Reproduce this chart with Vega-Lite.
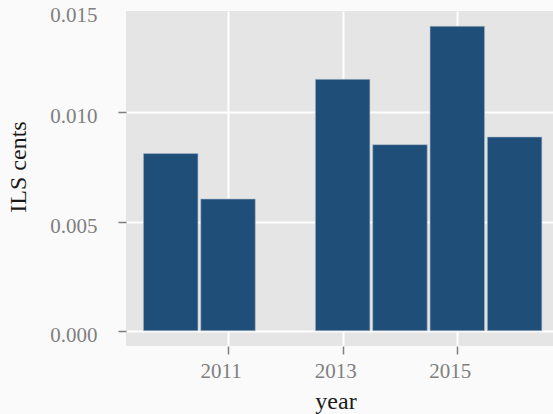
{
  "$schema": "https://vega.github.io/schema/vega-lite/v6.json",
  "width": 427,
  "height": 335,
  "autosize": "none",
  "padding": {"left": 126, "top": 11, "right": 0, "bottom": 68},
  "background": "#fafafa",
  "config": {
    "view": {"fill": "#e5e5e5", "stroke": null},
    "axis": {
      "labelFont": "Liberation Serif",
      "titleFont": "Liberation Serif",
      "labelFontSize": 21,
      "titleFontSize": 24,
      "titleFontWeight": "normal",
      "labelColor": "#7f7f7f",
      "titleColor": "#1a1a1a",
      "tickColor": "#7f7f7f",
      "tickWidth": 1.5,
      "tickSize": 8,
      "gridColor": "#ffffff",
      "gridWidth": 2,
      "domain": false
    }
  },
  "data": {
    "values": [
      {"year": 2010, "cents": 0.00811},
      {"year": 2011, "cents": 0.00603},
      {"year": 2013, "cents": 0.01151},
      {"year": 2014, "cents": 0.00852},
      {"year": 2015, "cents": 0.01394},
      {"year": 2016, "cents": 0.00887}
    ]
  },
  "layer": [
    {
      "mark": {"type": "bar", "width": 54.5, "color": "#1f4e79", "stroke": "#a9b8c8", "strokeWidth": 0.6},
      "encoding": {
        "x": {
          "field": "year", "type": "quantitative",
          "scale": {"domain": [2009.22, 2016.67], "nice": false, "zero": false, "padding": 0},
          "axis": {"values": [2011, 2013, 2015], "format": "d", "title": "year", "labelOffset": -7.5, "labelPadding": 6, "titleX": 209.5, "titleY": 62, "titleBaseline": "alphabetic", "titleAnchor": null}
        },
        "y": {
          "field": "cents", "type": "quantitative",
          "scale": {"domain": [-0.0007, 0.01464], "nice": false, "zero": false},
          "axis": {"values": [0, 0.005, 0.01], "format": ".3f", "title": "ILS cents", "labelOffset": 4.5, "labelPadding": 21, "titleX": -101, "titleY": 155.5, "titleBaseline": "alphabetic", "titleAlign": "center", "titleAnchor": null}
        }
      }
    },
    {
      "mark": {"type": "point", "opacity": 0},
      "encoding": {
        "y": {
          "field": "cents", "type": "quantitative",
          "scale": {"domain": [-0.0007, 0.0152], "nice": false, "zero": false},
          "axis": {"orient": "left", "values": [0.015], "format": ".3f", "title": null, "grid": false, "tickColor": "transparent", "labelOffset": 0.3, "labelPadding": 21}
        }
      }
    }
  ],
  "resolve": {"scale": {"y": "independent"}, "axis": {"y": "independent"}}
}
